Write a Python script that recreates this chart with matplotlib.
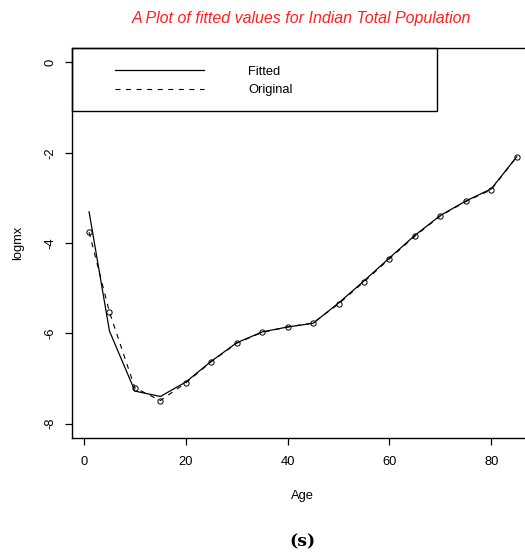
import matplotlib
matplotlib.use('Agg')
import matplotlib.pyplot as plt
import matplotlib.patches as patches

plt.rcParams['font.family'] = ['Liberation Sans', 'DejaVu Sans']

# data
age = [1, 5, 10, 15, 20, 25, 30, 35, 40, 45, 50, 55, 60, 65, 70, 75, 80, 85]
original = [-3.76, -5.53, -7.21, -7.49, -7.10, -6.63, -6.22, -5.98, -5.86, -5.77,
            -5.35, -4.86, -4.35, -3.85, -3.40, -3.08, -2.82, -2.09]
fitted = [-3.31, -5.95, -7.28, -7.40, -7.08, -6.62, -6.21, -5.97, -5.86, -5.78,
          -5.33, -4.84, -4.33, -3.83, -3.39, -3.07, -2.80, -2.09]
xticks = [0, 20, 40, 60, 80]
yticks = [0, -2, -4, -6, -8]

fig = plt.figure(figsize=(5.25, 5.55), dpi=100)
ax = fig.add_axes([0.1371, 0.2108, 0.8797, 0.7027])

l1, = ax.plot(age, fitted, color='black', lw=0.9)
l2, = ax.plot(age, original, color='black', lw=0.8, marker='o', ms=3.8,
              mfc='none', mew=0.7, dashes=(4.5, 5))

ax.set_xlim(-2.36, 88.36)
ax.set_ylim(-8.32, 0.32)
ax.set_xticks(xticks)
ax.set_yticks(yticks)
ax.set_yticklabels([str(v) for v in yticks], rotation=90, va='center')
ax.tick_params(direction='out', length=5, width=0.9, labelsize=9.3)
ax.tick_params(axis='x', pad=8)
ax.tick_params(axis='y', pad=6.5)
for s in ax.spines.values():
    s.set_linewidth(1.0)

ax.set_xlabel('Age', fontsize=9.3, labelpad=16)
ax.set_ylabel('logmx', fontsize=9.3, labelpad=14)

# legend box like R's
ax.add_patch(patches.Rectangle((0, 0.838), 0.790, 0.162, transform=ax.transAxes,
                               fill=False, edgecolor='black', lw=1.0, clip_on=False))
lg = ax.legend([l1, l2], ['Fitted', 'Original'], loc='upper left',
               bbox_to_anchor=(0.0931, 0.955), borderaxespad=0, borderpad=0,
               frameon=False, fontsize=9.3, handlelength=6.9, handletextpad=3.4,
               labelspacing=0.5)
lg.legend_handles[1].set_marker('None')

fig.text(0.575, 0.967, 'A Plot of fitted values for Indian Total Population',
         color='#ff2020', style='italic', fontsize=11.5, ha='center', va='center')
fig.text(0.576, 0.023, '(s)', family='DejaVu Serif', weight='bold', fontsize=12.5,
         ha='center', va='center')

fig.savefig('out.png', dpi=100)
